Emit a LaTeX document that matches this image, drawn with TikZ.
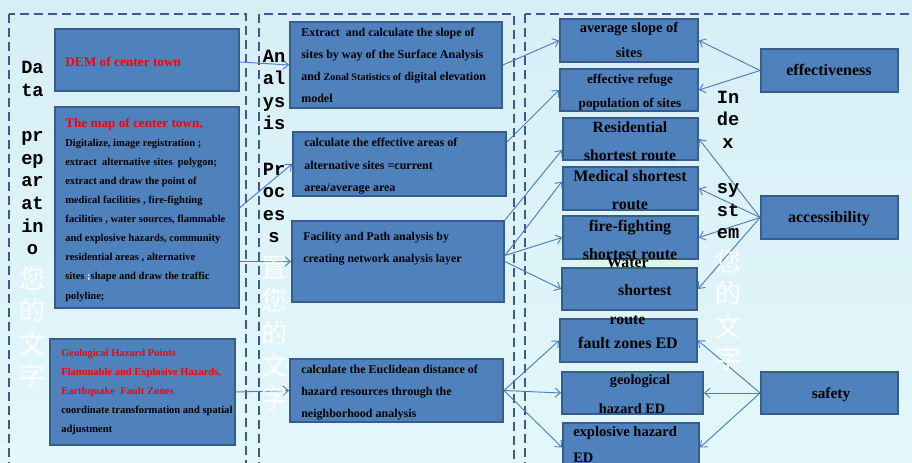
\documentclass[tikz,border=0pt]{standalone}
\usepackage{fontspec}
\setmainfont{Liberation Serif}
\newfontfamily\monolbl{Liberation Mono}
\newfontfamily\cjk{Noto Sans CJK SC}
\usetikzlibrary{arrows.meta,fit,calc}
\definecolor{bgtop}{RGB}{215,238,246}
\definecolor{bgbot}{RGB}{226,248,251}
\definecolor{boxfill}{RGB}{79,129,189}
\definecolor{boxline}{RGB}{56,93,138}
\definecolor{framecol}{RGB}{58,92,140}
\definecolor{arrowcol}{RGB}{74,126,187}
\definecolor{redtxt}{RGB}{255,0,0}

\tikzset{
  box/.style={rectangle,draw=boxline,fill=boxfill,line width=1.4pt,inner sep=0pt},
  frame/.style={draw=framecol,line width=2.2pt,dash pattern=on 6.5pt off 4pt},
  link/.style={draw=arrowcol,line width=0.7pt,-{Straight Barb[length=4pt,width=7pt]}},
  sz/.style 2 args={font=\bfseries\fontsize{#1}{#2}\selectfont},
  txt/.style={inner sep=0pt,align=left,anchor=base west},
  ctxt/.style={inner sep=0pt,align=center,anchor=base},
  vlbl/.style={inner sep=0pt,align=center,anchor=base,font=\monolbl\bfseries\fontsize{14}{16.95}\selectfont},
  cjklbl/.style={inner sep=0pt,align=center,anchor=base,text=white,font=\cjk\fontsize{19.5}{24.4}\selectfont}
}

\begin{document}
\begin{tikzpicture}[x=0.75pt,y=-0.75pt]
        \useasboundingbox (0,0) rectangle (912,463);
        \clip (0,0) rectangle (912,463);
        \fill[top color=bgtop,bottom color=bgbot] (0,0) rectangle (912,463);

        % dashed frames
        \draw[frame] (9,14) rectangle (246,480);
        \draw[frame] (259,14) rectangle (514,480);
        \draw[frame] (525,14) rectangle (930,480);

        % data preparation
        \node[box,fit={(55,29) (239,91)}] (dem) {};
        \node[box,fit={(55,107) (239,308)}] (map) {};
        \node[box,fit={(50,339) (235,445)}] (geo) {};

        % analysis process
        \node[box,fit={(290,22) (502,108)}] (extract) {};
        \node[box,fit={(293,132) (506,196)}] (effarea) {};
        \node[box,fit={(292,221) (504,302)}] (facility) {};
        \node[box,fit={(290,359) (503,422)}] (euclid) {};

        % index system
        \node[box,fit={(560,19) (698,62)}] (slope) {};
        \node[box,fit={(560,69) (698,111)}] (refuge) {};
        \node[box,fit={(563,118) (698,160)}] (resid) {};
        \node[box,fit={(563,167) (698,210)}] (medic) {};
        \node[box,fit={(563,216) (698,259)}] (fire) {};
        \node[box,fit={(562,268) (697,310)}] (water) {};
        \node[box,fit={(560,319) (697,362)}] (fault) {};
        \node[box,fit={(562,372) (703,414)}] (geohaz) {};
        \node[box,fit={(563,423) (699,472)}] (explo) {};
        \node[box,fit={(761,49) (898,92)}] (effect) {};
        \node[box,fit={(761,196) (898,239)}] (access) {};
        \node[box,fit={(761,372) (898,414)}] (safety) {};

        \draw[link] ($(dem.east)+(0,2)$) -- (extract.west);
        \draw[link] (map.east) -- (effarea.west);
        \draw[link] (map.east |- facility.west) -- (facility.west);
        \draw[link] (geo.east) -- (euclid.west);

        \draw[link] (extract.east) -- (slope.west);
        \draw[link] ($(effarea.north east)+(0,11)$) -- (refuge.west);
        \draw[link] (facility.north east) -- ($(resid.west)+(0,11)$);
        \draw[link] ($(facility.east)+(0,-6)$) -- ($(medic.west)+(0,-7)$);
        \draw[link] ($(facility.east)+(0,-6)$) -- (fire.west);
        \draw[link] (facility.east) -- (water.west);
        \draw[link] (euclid.east) -- (fault.west);
        \draw[link] (euclid.east) -- (geohaz.west);
        \draw[link] (euclid.east) -- (explo.west);

        \draw[link] (effect.west) -- (slope.east);
        \draw[link] (effect.west) -- (refuge.east);
        \draw[link] (access.west) -- (resid.east);
        \draw[link] (access.west) -- (medic.east);
        \draw[link] (access.west) -- (fire.east);
        \draw[link] (access.west) -- (water.east);
        \draw[link] (safety.west) -- (fault.east);
        \draw[link] (safety.west) -- (geohaz.east);
        \draw[link] (safety.west) -- (explo.east);

        % texts (base = last line)
        \node[txt,sz={10}{12},text=redtxt] (demtxt) at (65,67) {DEM of center town};
        \node[txt,sz={9.9}{12},text=redtxt] (maptitle) at (65,128) {The map of center town,};
        \node[txt,sz={7.9}{14.3}] (maptxt) at (65,299) {Digitalize, image registration ;\\extract\ \ alternative sites\ \ polygon;\\extract and draw the point of\\medical facilities , fire-fighting\\facilities , water sources, flammable\\and explosive hazards, community\\residential areas , alternative\\sites \textcolor{white}{;}shape and draw the traffic\\polyline;};
        \node[txt,sz={7.9}{14.3}] (geotxt) at (61,432.3) {\textcolor{redtxt}{Geological Hazard Points}\\\textcolor{redtxt}{Flammable and Explosive Hazards,}\\\textcolor{redtxt}{Earthquake\ \ Fault Zones}\\coordinate transformation and spatial\\adjustment};

        \node[txt,sz={9}{16.3}] (extracttxt) at (301,102.2) {Extract\ \ and calculate the slope of\\sites by way of the Surface Analysis\\and {\fontsize{7.6}{16.3}\selectfont Zonal Statistics of} digital elevation\\model};
        \node[txt,sz={9}{16.5}] (effareatxt) at (304,191) {calculate the effective areas of\\alternative sites =current\\area/average area};
        \node[txt,sz={8.9}{15.8}] (facilitytxt) at (303,262) {Facility and Path analysis by\\creating network analysis layer};
        \node[txt,sz={9}{16.5}] (euclidtxt) at (301,417) {calculate the Euclidean distance of\\hazard\ resources through the\\neighborhood analysis};

        \node[ctxt,sz={10.8}{18.75}] (slopetxt) at (629,58) {average slope of\\sites};
        \node[ctxt,sz={9.9}{18}] (refugetxt) at (630,108) {effective refuge\\population of sites};
        \node[ctxt,sz={11.7}{21.4}] (residtxt) at (630,161) {Residential\\shortest route};
        \node[ctxt,sz={12}{21}] (medictxt) at (630,209.5) {Medical shortest\\route};
        \node[ctxt,sz={12}{21}] (firetxt) at (630,259) {fire-fighting\\shortest route};
        \node[ctxt,sz={11.8}{21.6}] (watertxt) at (627.5,324.6) {Water\\\hspace*{26pt}shortest\\route};
        \node[ctxt,sz={12}{21}] (faulttxt) at (628,348) {fault zones ED};
        \node[ctxt,sz={10.7}{21.75}] (geohaztxt) at (632,413) {\hspace*{12pt}geological\\hazard\ ED};
        \node[txt,sz={10.9}{19.5}] (explotxt) at (573,462) {explosive hazard\\ED};
        \node[ctxt,sz={12}{12}] (effecttxt) at (829,76) {effectiveness};
        \node[ctxt,sz={12}{12}] (accesstxt) at (829,223) {accessibility};
        \node[ctxt,sz={11.5}{12}] (safetytxt) at (831,398) {safety};

        % column titles
        \node[vlbl] (datalbl) at (32.5,254.8) {Da\\ta\\ \\pr\\ep\\ar\\at\\in\\o};
        \node[cjklbl] (datacjk) at (32.5,385.6) {您\\的\\文\\字};
        \node[vlbl] (analbl) at (274,242.8) {An\\al\\ys\\is\\ \\Pr\\oc\\es\\s};
        \node[cjklbl] (anacjk) at (274,408.1) {置\\您\\的\\文\\字};
        \node[vlbl] (idxlbl) at (728,238.6) {In\\de\\x\\ \\sy\\st\\em};
        \node[cjklbl] (idxcjk) at (728,368.6) {您\\的\\文\\字};
\end{tikzpicture}
\end{document}
